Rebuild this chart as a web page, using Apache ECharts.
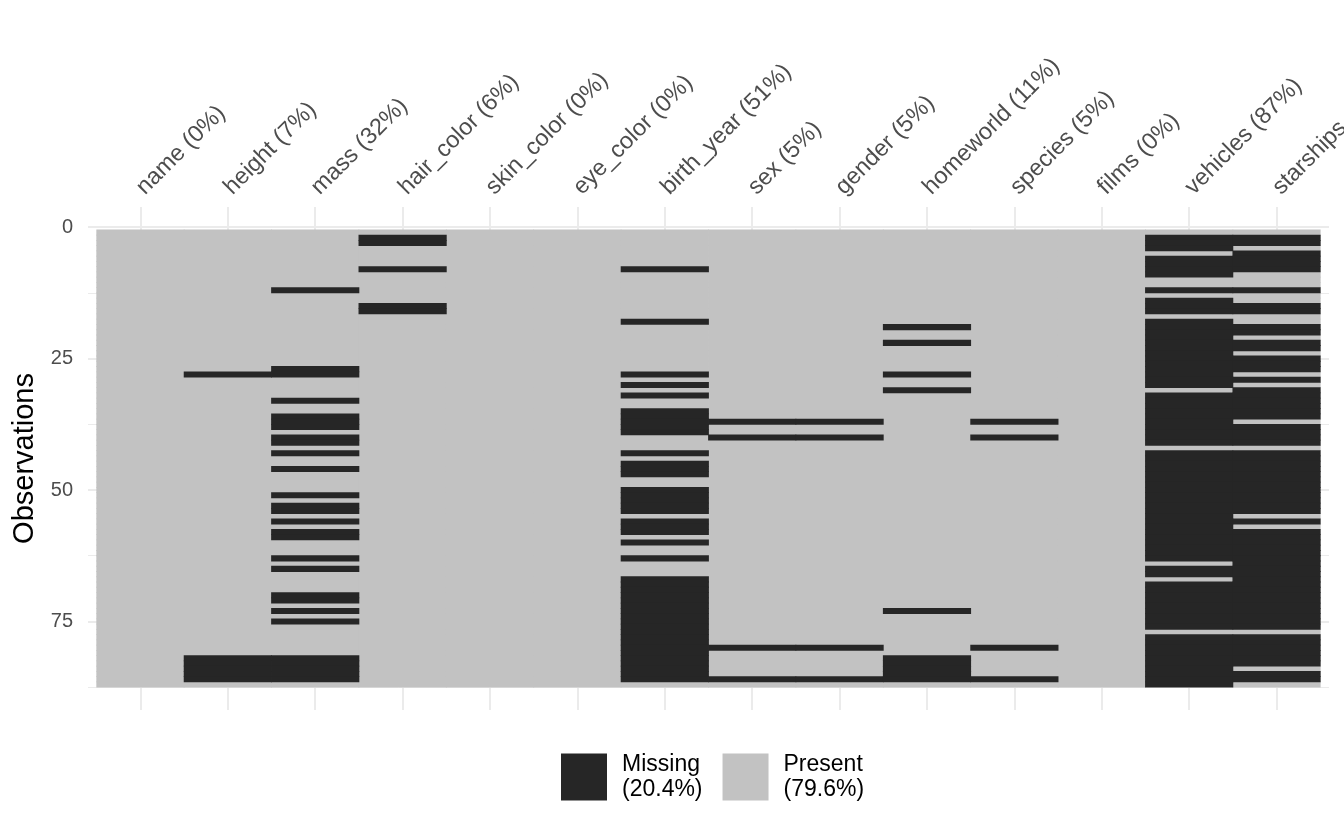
<!DOCTYPE html>
<html><head><meta charset="utf-8">
<script src="https://cdn.jsdelivr.net/npm/echarts@6/dist/echarts.min.js"></script>
<style>html,body{margin:0;padding:0;background:#fff}#c{width:1344px;height:830px}</style>
</head><body><div id="c"></div>
<script>
const nObs = 87;
const variables = ['name','height','mass','hair_color','skin_color','eye_color','birth_year','sex','gender','homeworld','species','films','vehicles','starships'];
const tickLabels = ['name (0%)','height (7%)','mass (32%)','hair_color (6%)','skin_color (0%)','eye_color (0%)','birth_year (51%)','sex (5%)','gender (5%)','homeworld (11%)','species (5%)','films (0%)','vehicles (87%)','starships (77%)'];
const yTicks = [0, 25, 50, 75];
const yMinorTicks = [12.5, 37.5, 62.5, 87.5];
const legendNames = ['Missing', 'Present'];
const legendLabels = ['Missing\n(20.4%)', 'Present\n(79.6%)'];

// observation numbers (1-based) that are missing, one array per variable
const missName = [];
const missHeight = [28,82,83,84,85,86];
const missMass = [12,27,28,33,36,37,38,40,41,43,46,51,53,54,56,58,59,63,65,70,71,73,75,82,83,84,85,86];
const missHairColor = [2,3,8,15,16];
const missSkinColor = [];
const missEyeColor = [];
const missBirthYear = [8,18,28,30,32,35,36,37,38,39,43,45,46,47,50,51,52,53,54,56,57,58,60,63,67,68,69,70,71,72,73,74,75,76,77,78,79,80,81,82,83,84,85,86];
const missSex = [37,40,80,86];
const missGender = [37,40,80,86];
const missHomeworld = [19,22,28,31,73,82,83,84,85,86];
const missSpecies = [37,40,80,86];
const missFilms = [];
const missVehicles = [2,3,4,6,7,8,9,12,14,15,16,18,19,20,21,22,23,24,25,26,27,28,29,30,32,33,34,35,36,37,38,39,40,41,43,44,45,46,47,48,49,50,51,52,53,54,55,56,57,58,59,60,61,62,63,65,66,68,69,70,71,72,73,74,75,76,78,79,80,81,82,83,84,85,86,87];
const missStarships = [2,3,5,6,7,8,12,15,16,19,20,22,23,25,26,27,29,31,32,33,34,35,36,38,39,40,41,43,44,45,46,47,48,49,50,51,52,53,54,56,58,59,60,61,62,63,64,65,66,67,68,69,70,71,72,73,74,75,76,78,79,80,81,82,83,85,86];

const missingByVar = [missName, missHeight, missMass, missHairColor, missSkinColor, missEyeColor, missBirthYear, missSex, missGender, missHomeworld, missSpecies, missFilms, missVehicles, missStarships];

const missingCells = [], presentCells = [];
missingByVar.forEach((rows, c) => {
  const set = new Set(rows);
  for (let r = 1; r <= nObs; r++) {
    (set.has(r) ? missingCells : presentCells).push([c, r]);
  }
});

function renderCell(params, api) {
  const c = api.value(0), r = api.value(1);
  const p0 = api.coord([c - 0.5, r - 0.5]);
  const p1 = api.coord([c + 0.5, r + 0.5]);
  const x = Math.min(p0[0], p1[0]), y = Math.min(p0[1], p1[1]);
  const w = Math.abs(p1[0] - p0[0]), h = Math.abs(p1[1] - p0[1]);
  return { type: 'rect', shape: { x: x - 0.4, y: y - 0.4, width: w + 0.8, height: h + 0.8 }, style: { fill: api.visual('color') } };
}

const FONT = 'Liberation Sans, Arial, Helvetica, sans-serif';
const GRID = '#EBEBEB';
const chart = echarts.init(document.getElementById('c'), null, { renderer: 'canvas' });
chart.setOption({
  animation: false,
  backgroundColor: '#ffffff',
  textStyle: { fontFamily: FONT },
  grid: { left: 88, right: 15, top: 207, bottom: 120, containLabel: false, outerBoundsMode: 'none' },
  legend: {
    data: legendNames,
    left: 561, top: 752,
    padding: 0,
    orient: 'horizontal',
    icon: 'rect',
    itemWidth: 46, itemHeight: 47, itemGap: 20,
    formatter: name => legendLabels[legendNames.indexOf(name)],
    textStyle: { fontFamily: FONT, fontSize: 23, lineHeight: 25, color: '#000', padding: [0, 0, 0, 10] },
    selectedMode: false
  },
  xAxis: {
    type: 'value', position: 'top',
    min: -0.6, max: 13.6,
    axisLine: { show: false },
    axisTick: { show: false, customValues: variables.map((v, i) => i) },
    axisLabel: {
      customValues: variables.map((v, i) => i),
      formatter: v => tickLabels[Math.round(v)],
      rotate: 45, margin: 16,
      color: '#4D4D4D', fontSize: 23.5, fontFamily: FONT
    },
    splitLine: { show: true, lineStyle: { color: GRID, width: 2 } }
  },
  yAxis: [{
    type: 'value', inverse: true,
    min: -3.85, max: 91.85,
    name: 'Observations', nameLocation: 'middle', nameGap: 46, nameRotate: 90,
    nameTextStyle: { fontSize: 29, color: '#000', fontFamily: FONT },
    axisLine: { show: false },
    axisTick: { show: false, customValues: yTicks },
    axisLabel: { customValues: yTicks, margin: 15, color: '#4D4D4D', fontSize: 20, fontFamily: FONT },
    splitLine: { show: true, lineStyle: { color: GRID, width: 2 } }
  }, {
    type: 'value', inverse: true, position: 'left',
    min: -3.85, max: 91.85,
    axisLine: { show: false },
    axisTick: { show: false, customValues: yMinorTicks },
    axisLabel: { show: false, customValues: yMinorTicks },
    splitLine: { show: true, lineStyle: { color: GRID, width: 1 } }
  }],
  series: [{
    name: 'Present', type: 'custom', renderItem: renderCell,
    data: presentCells, encode: { x: 0, y: 1 },
    itemStyle: { color: '#C2C2C2' }, z: 2, silent: true
  }, {
    name: 'Missing', type: 'custom', renderItem: renderCell,
    data: missingCells, encode: { x: 0, y: 1 },
    itemStyle: { color: '#262626' }, z: 3, silent: true
  }]
});
</script></body></html>
